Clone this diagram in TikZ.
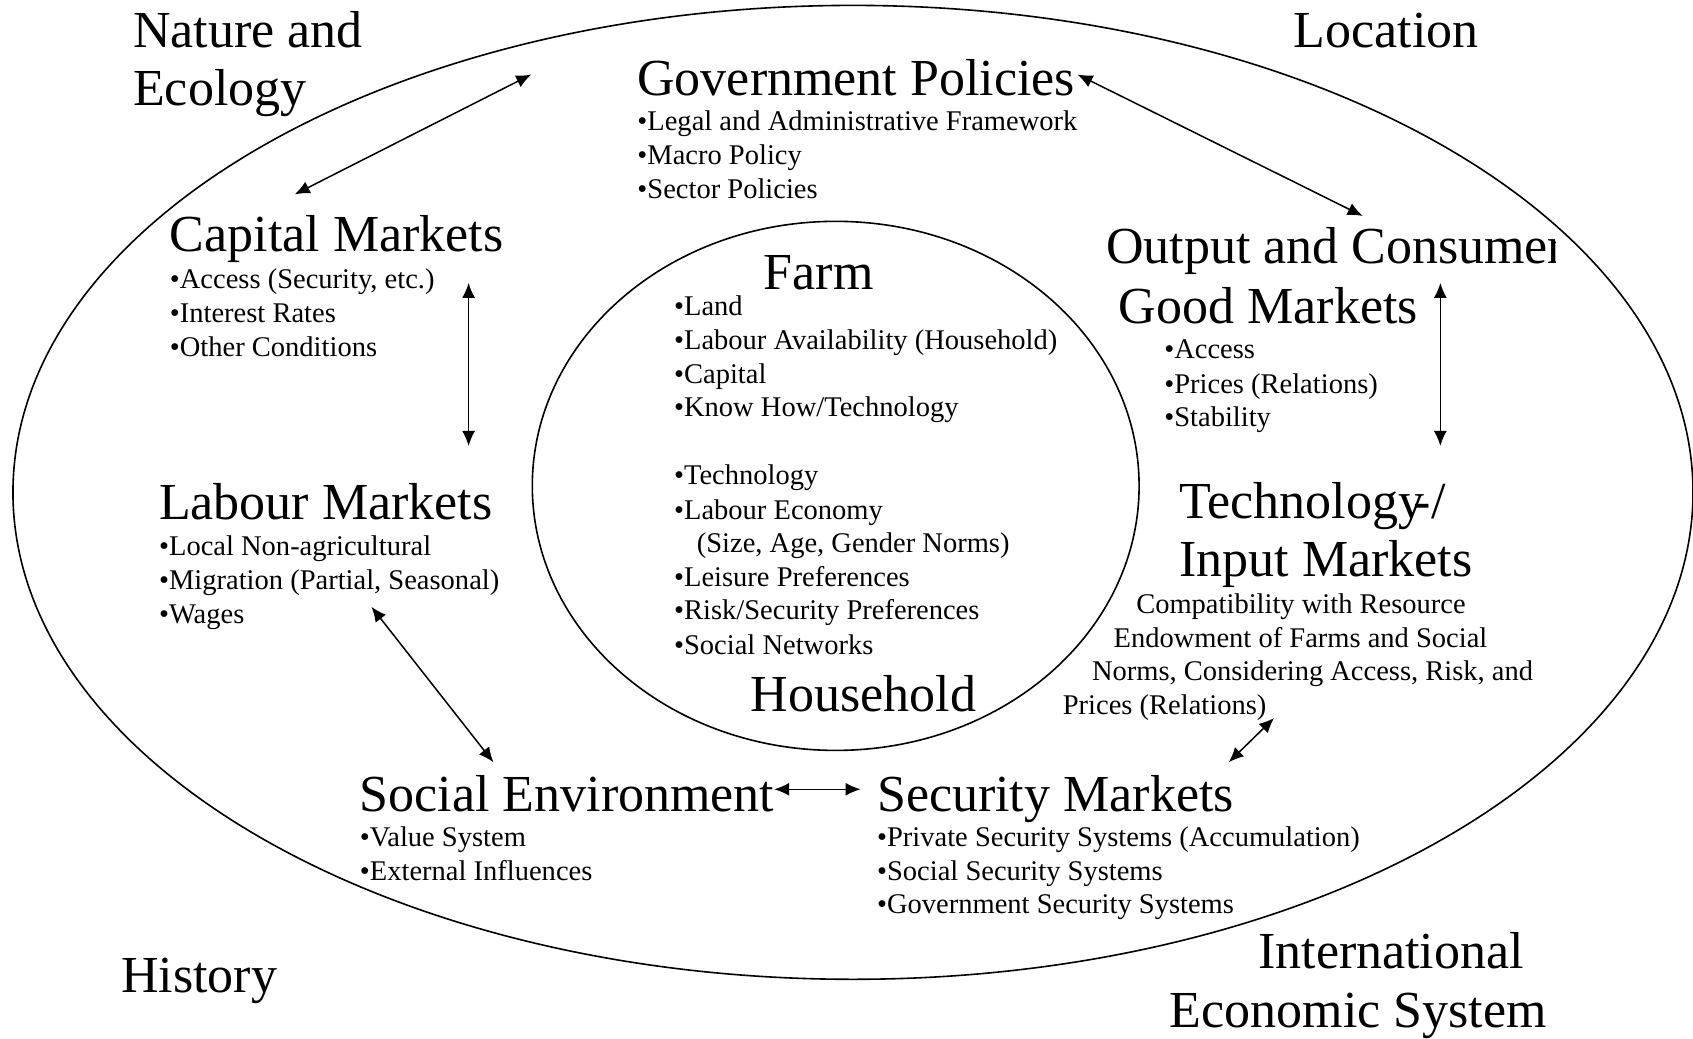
\documentclass[tikz,border=0pt]{standalone}
\usepackage{fontspec}
\setmainfont{Liberation Serif}
\usetikzlibrary{arrows.meta}
\begin{document}
\begin{tikzpicture}[x=0.54pt,y=-0.54pt,
  big/.style={anchor=base west,inner sep=0pt,font=\fontsize{26}{30}\selectfont},
  small/.style={anchor=base west,inner sep=0pt,yshift=-1.1pt,font=\fontsize{14.26}{17}\selectfont},
  link/.style={{Latex[length=7.5pt,width=6.5pt]}-{Latex[length=7.5pt,width=6.5pt]},line width=0.75pt},
  ring/.style={line width=0.8pt}]
\useasboundingbox (0,0) rectangle (1568,962);
% ellipses
\draw[ring] (790,456) ellipse [x radius=778, y radius=451];
\draw[ring] (774,450) ellipse [x radius=281, y radius=245];
% outer labels
\node[big] (nat1) at (123,44) {Nature and};
\node[big] (nat2) at (123,98) {Ecology};
\node[big] (loc) at (1198,44) {Location};
\node[big] (hist) at (112,919) {History};
\node[big] (int1) at (1165,897) {International};
\node[big] (int2) at (1083,952) {Economic System};
% Government Policies
\node[big] (gp) at (590,88) {Government Policies};
\node[small] (gp1) at (590,119) {•Legal and Administrative Framework};
\node[small] (gp2) at (590,150) {•Macro Policy};
\node[small] (gp3) at (590,182) {•Sector Policies};
% Capital Markets
\node[big] (cm) at (157,233) {Capital Markets};
\node[small] (cm1) at (157,265) {•Access (Security, etc.)};
\node[small] (cm2) at (157,297) {•Interest Rates};
\node[small] (cm3) at (157,328) {•Other Conditions};
% Labour Markets
\node[big] (lm) at (147,481) {Labour Markets};
\node[small] (lm1) at (147,512) {•Local Non-agricultural};
\node[small] (lm2) at (147,544) {•Migration (Partial, Seasonal)};
\node[small] (lm3) at (147,575) {•Wages};
% Social Environment
\node[big] (se) at (333,752) {Social Environment};
\node[small] (se1) at (333,782) {•Value System};
\node[small] (se2) at (333,813) {•External Influences};
% Security Markets
\node[big] (sm) at (812,752) {Security Markets};
\node[small] (sm1) at (812,782) {•Private Security Systems (Accumulation)};
\node[small] (sm2) at (812,813) {•Social Security Systems};
\node[small] (sm3) at (812,844) {•Government Security Systems};
% Output and Consumer Good Markets
\begin{scope}
\clip (1000,190) rectangle (1441,262);
\node[big] (oc) at (1024,244) {Output and Consumer};
\end{scope}
\node[big] (og) at (1036,300) {Good Markets};
\node[small] (og1) at (1078,330) {•Access};
\node[small] (og2) at (1078,362) {•Prices (Relations)};
\node[small] (og3) at (1078,393) {•Stability};
% Technology / Input Markets
\node[big] (tm) at (1092,480) {Technology\kern-0.2em-/};
\node[big] (im) at (1092,534) {Input Markets};
\node[small] (tc1) at (1052,566) {Compatibility with Resource};
\node[small] (tc2) at (1031,598) {Endowment of Farms and Social};
\node[small] (tc3) at (1011,628) {Norms, Considering Access, Risk, and};
\node[small] (tc4) at (984,660) {Prices (Relations)};
% Farm / Household
\node[big] (farm) at (707,268) {Farm};
\node[small] (f1) at (624,290) {•Land};
\node[small] (f2) at (624,322) {•Labour Availability (Household)};
\node[small] (f3) at (624,353) {•Capital};
\node[small] (f4) at (624,384) {•Know How/Technology};
\node[small] (f5) at (624,447) {•Technology};
\node[small] (f6) at (624,479) {•Labour Economy};
\node[small] (f7) at (645,510) {(Size, Age, Gender Norms)};
\node[small] (f8) at (624,541) {•Leisure Preferences};
\node[small] (f9) at (624,572) {•Risk/Security Preferences};
\node[small] (f10) at (624,604) {•Social Networks};
\node[big] (hh) at (695,659) {Household};
% arrow end points
\coordinate (a1) at (273,180);
\coordinate (b1) at (492,69);
\coordinate (a2) at (998,69);
\coordinate (b2) at (1262,200);
\coordinate (a3) at (434,262);
\coordinate (b3) at (434,413);
\coordinate (a4) at (1334,262);
\coordinate (b4) at (1334,413);
\coordinate (a5) at (344,562);
\coordinate (b5) at (457,706);
\coordinate (a6) at (717,731);
\coordinate (b6) at (797,731);
\coordinate (a7) at (1180,665);
\coordinate (b7) at (1138,706);
\draw[link] (a1) -- (b1);
\draw[link] (a2) -- (b2);
\draw[link] (a3) -- (b3);
\draw[link] (a4) -- (b4);
\draw[link] (a5) -- (b5);
\draw[link] (a6) -- (b6);
\draw[link] (a7) -- (b7);
\end{tikzpicture}
\end{document}
